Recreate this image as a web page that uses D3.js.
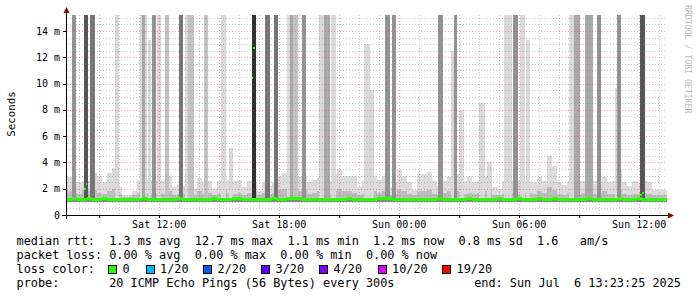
<!DOCTYPE html>
<html>
<head>
<meta charset="utf-8">
<script src="https://cdn.jsdelivr.net/npm/d3@7"></script>
<style>
  body { margin: 0; background: #fff; }
  text { font-family: "DejaVu Sans Mono", monospace; white-space: pre; }
  rect { shape-rendering: crispEdges; }
</style>
</head>
<body>
<script>
// smokeping style latency graph, 30 hours, 15 min smoke slots
var startTime = new Date(2025, 6, 5, 7, 23, 25);
var endTime = new Date(2025, 6, 6, 13, 23, 25);
var slotMinutes = 15;

var smokeFloor = 1.02; // lowest ping, ms

// top of the outer smoke (max ping), ms
var smokeMax = [2.9,2.4,2.5,2.6,2.6,3.2,3.0,2.5,3.2,3.6,
  2.1,1.5,1.5,1.8,2.6,2.6,2.7,2.6,2.6,2.6,
  3.0,2.1,2.3,2.2,2.5,2.0,2.8,2.5,2.6,2.0,
  2.6,2.9,2.7,2.6,2.7,2.1,2.6,2.5,1.8,2.5,
  2.2,2.5,3.0,3.2,2.9,3.4,2.9,3.0,2.5,2.7,
  2.8,3.1,2.5,3.1,3.5,3.0,3.0,3.0,2.1,2.6,
  2.5,3.0,2.7,3.0,2.1,2.5,3.4,3.0,2.5,1.9,
  3.1,3.1,3.3,2.6,2.2,2.6,2.9,2.6,3.1,2.6,
  3.0,2.5,2.6,2.9,4.0,2.1,2.0,2.6,2.6,2.6,
  2.6,2.6,2.6,2.5,2.9,2.6,4.5,3.7,2.5,2.3,
  2.6,2.6,2.6,2.6,2.6,2.6,2.6,2.9,2.5,2.6,
  3.4,2.5,2.2,2.6,2.5,2.6,2.5,1.9,1.9,1.9];

// top of the inner smoke, ms
var smokeMid = [1.8,1.7,1.6,1.9,1.8,1.9,1.7,1.6,1.8,2.0,
  1.6,1.4,1.4,1.5,1.7,1.8,1.7,1.6,1.7,1.6,
  1.8,1.5,1.6,1.6,1.7,1.5,1.8,1.6,1.7,1.5,
  1.6,1.8,1.7,1.6,1.7,1.5,1.7,1.8,1.5,1.7,
  1.6,1.7,1.9,2.0,1.8,2.1,1.8,1.9,1.6,1.7,
  1.8,1.9,1.6,1.8,2.0,1.8,1.8,1.7,1.5,1.6,
  1.6,1.8,1.7,1.8,1.5,1.6,1.9,1.8,1.6,1.5,
  1.8,1.8,1.9,1.6,1.5,1.7,1.8,1.6,1.8,1.6,
  1.7,1.6,1.7,1.8,2.0,1.5,1.5,1.6,1.7,1.7,
  1.6,1.7,1.7,1.6,1.8,1.7,2.1,1.9,1.6,1.5,
  1.7,1.8,1.6,1.7,1.8,1.6,1.7,1.8,1.6,1.6,
  1.9,1.6,1.5,1.6,1.6,1.7,1.6,1.5,1.5,1.5];

// median rtt per slot, ms
var median = [1.20,1.22,1.18,1.20,1.25,1.20,1.18,1.22,1.20,1.15,
  1.18,1.20,1.15,1.18,1.20,1.22,1.18,1.20,1.20,1.15,
  1.20,1.18,1.22,1.20,1.18,1.20,1.15,1.18,1.20,1.22,
  1.20,1.18,1.20,1.22,1.25,1.20,1.18,1.20,1.15,1.18,
  1.20,1.22,1.20,1.18,1.22,1.25,1.22,1.20,1.18,1.20,
  1.15,1.18,1.20,1.18,1.15,1.20,1.22,1.20,1.18,1.15,
  1.18,1.20,1.22,1.25,1.22,1.20,1.18,1.20,1.15,1.18,
  1.20,1.18,1.15,1.20,1.22,1.18,1.20,1.15,1.18,1.20,
  1.22,1.20,1.18,1.15,1.18,1.20,1.22,1.20,1.18,1.20,
  1.22,1.20,1.18,1.20,1.22,1.18,1.20,1.22,1.20,1.18,
  1.20,1.15,1.18,1.20,1.22,1.20,1.18,1.15,1.18,1.20,
  1.22,1.20,1.18,1.20,1.22,1.20,1.18,1.20,1.18,1.20];

// 5 minute steps where the median jumped
var peakAt = ["Sat 08:14","Sat 08:19","Sat 16:37","Sat 16:42","Sun 12:02","Sun 12:08"];
var peakMs = [2.0, 2.35, 10.4, 12.7, 1.5, 1.7];

// smoke spikes: from, to, how many pings were slow (darker = more), top in ms
var spikeFrom = ["Sat 07:38","Sat 08:14","Sat 08:32","Sat 09:47","Sat 11:02","Sat 11:08","Sat 11:26","Sat 11:38",
  "Sat 11:53","Sat 12:17","Sat 12:59","Sat 13:17","Sat 13:26","Sat 14:14","Sat 15:05","Sat 15:29",
  "Sat 16:38","Sat 17:17","Sat 17:44","Sat 18:23","Sat 18:32","Sat 18:41","Sat 19:08","Sat 19:59",
  "Sat 20:14","Sat 20:35","Sat 22:14","Sat 22:32","Sat 23:17","Sat 23:38","Sun 01:56","Sun 02:35",
  "Sun 02:44","Sun 02:59","Sun 03:59","Sun 04:23","Sun 05:14","Sun 05:41","Sun 06:02","Sun 06:20",
  "Sun 08:29","Sun 08:44","Sun 09:17","Sun 09:53","Sun 10:47","Sun 10:53","Sun 12:02"];
var spikeTo = ["Sat 07:50","Sat 08:26","Sat 08:47","Sat 09:59","Sat 11:23","Sat 11:17","Sat 11:35","Sat 11:50",
  "Sat 12:05","Sat 12:29","Sat 13:11","Sat 13:29","Sat 13:44","Sat 14:26","Sat 15:20","Sat 15:41",
  "Sat 16:50","Sat 17:32","Sat 17:56","Sat 18:35","Sat 18:44","Sat 18:56","Sat 19:20","Sat 20:17",
  "Sat 20:32","Sat 20:50","Sat 22:32","Sat 22:44","Sat 23:32","Sat 23:50","Sun 02:11","Sun 02:50",
  "Sun 02:53","Sun 03:14","Sun 04:17","Sun 04:35","Sun 05:38","Sun 05:56","Sun 06:17","Sun 06:32",
  "Sun 08:47","Sun 09:02","Sun 09:41","Sun 10:05","Sun 10:56","Sun 11:05","Sun 12:17"];
var spikeDepth = [4,6,5,1,1,3,1,4, 1,2,5,1,2,2,1,1, 7,5,5,1,3,2,4,1, 3,1,1,1,4,4,4,1,
  4,1,1,1,1,4,1,1, 1,3,3,4,1,4,6];
var spikeTop = [15.2,15.2,15.2,15.2,15.2,15.2,13.3,15.2, 15.2,15.2,15.2,15.2,15.2,15.2,15.2,5.1,
  15.2,15.2,15.2,15.2,15.2,15.2,15.2,15.2, 15.2,15.2,13.0,9.5,15.2,15.2,15.2,12.5,
  15.2,8.0,8.5,4.0,15.2,15.2,15.2,13.3, 15.2,15.2,15.2,15.2,9.7,15.2,15.2];

var yTicks = [0,2,4,6,8,10,12,14];
var lossLabels = ["0","1/20","2/20","3/20","4/20","10/20","19/20"];
var lossColors = ["#26ff00","#00b8ff","#0059ff","#5e00ff","#7e00ff","#dd00ff","#ff0000"];

var legendRows = [
  "median rtt:  1.3 ms avg  12.7 ms max  1.1 ms min  1.2 ms now  0.8 ms sd  1.6   am/s",
  "packet loss: 0.00 % avg  0.00 % max  0.00 % min  0.00 % now",
  "loss color:",
  "probe:       20 ICMP Echo Pings (56 Bytes) every 300s"
];
var endLabel = "end: Sun Jul  6 13:23:25 2025";

function parseT(s) {
  var day = s.indexOf("Sun") === 0 ? 6 : 5;
  var hm = s.slice(4).split(":");
  return new Date(2025, 6, day, +hm[0], +hm[1]);
}
function slotTime(i) { return d3.timeMinute.offset(startTime, i * slotMinutes); }

var width = 697, height = 297;
var svg = d3.select("body").append("svg").attr("width", width).attr("height", height);

var x = d3.scaleTime().domain([startTime, endTime]).range([67, 667]);
var y = d3.scaleLinear().domain([0, 15.22]).range([215, 15]);
var shade = ["#d9d9d9","#c2c2c2","#a8a8a8","#939393","#767676","#555555","#303030"];

function px(t) { return Math.round(x(t)); }
function slotX(d, i) { return px(slotTime(i)); }
function slotW(d, i) { return px(slotTime(i + 1)) - px(slotTime(i)); }

var plot = svg.append("g");

// outer smoke
plot.selectAll("rect.smoke").data(smokeMax).enter().append("rect")
  .attr("x", slotX).attr("width", slotW)
  .attr("y", function(d) { return y(d); })
  .attr("height", function(d) { return y(smokeFloor) - y(d); })
  .attr("fill", "#dcdcdc");

plot.selectAll("rect.mid").data(smokeMid).enter().append("rect")
  .attr("x", slotX).attr("width", slotW)
  .attr("y", function(d) { return y(d); })
  .attr("height", function(d) { return y(smokeFloor) - y(d); })
  .attr("fill", "#bdbdbd");

plot.selectAll("rect.low").data(median).enter().append("rect")
  .attr("x", slotX).attr("width", slotW)
  .attr("y", function(d) { return y(d + 0.12); })
  .attr("height", function(d) { return y(smokeFloor) - y(d + 0.12); })
  .attr("fill", "#8a8a8a");

// spikes
plot.selectAll("rect.spike").data(spikeFrom).enter().append("rect")
  .attr("x", function(d) { return px(parseT(d)); })
  .attr("width", function(d, i) { return Math.max(2, px(parseT(spikeTo[i])) - px(parseT(d))); })
  .attr("y", function(d, i) { return y(spikeTop[i]); })
  .attr("height", function(d, i) { return y(smokeFloor + 0.1) - y(spikeTop[i]); })
  .attr("fill", function(d, i) { return shade[spikeDepth[i] - 1]; });

// grid on top, like rrdtool
var grid = svg.append("g");
var hMinor = d3.range(0.5, 15.22, 0.5).filter(function(v) { return v % 2 !== 0; });
grid.selectAll("line.hmin").data(hMinor).enter().append("line")
  .attr("x1", 67).attr("x2", 667)
  .attr("y1", function(d) { return Math.round(y(d)) + 0.5; })
  .attr("y2", function(d) { return Math.round(y(d)) + 0.5; })
  .attr("stroke", "rgba(120,120,120,0.4)").attr("stroke-dasharray", "1,2");
grid.selectAll("line.hmaj").data(yTicks.slice(1)).enter().append("line")
  .attr("x1", 67).attr("x2", 667)
  .attr("y1", function(d) { return Math.round(y(d)) + 0.5; })
  .attr("y2", function(d) { return Math.round(y(d)) + 0.5; })
  .attr("stroke", "rgba(230,60,60,0.45)").attr("stroke-dasharray", "1,2");

var hours = x.ticks(d3.timeHour.every(1));
grid.selectAll("line.vmin").data(hours.filter(function(d) { return d.getHours() % 3 !== 0; })).enter().append("line")
  .attr("y1", 15).attr("y2", 215)
  .attr("x1", function(d) { return px(d) + 0.5; })
  .attr("x2", function(d) { return px(d) + 0.5; })
  .attr("stroke", "rgba(120,120,120,0.4)").attr("stroke-dasharray", "1,2");
grid.selectAll("line.vmaj").data(hours.filter(function(d) { return d.getHours() % 3 === 0; })).enter().append("line")
  .attr("y1", 15).attr("y2", 215)
  .attr("x1", function(d) { return px(d) + 0.5; })
  .attr("x2", function(d) { return px(d) + 0.5; })
  .attr("stroke", "rgba(230,60,60,0.45)").attr("stroke-dasharray", "1,2");

// median
svg.append("g").selectAll("rect").data(median).enter().append("rect")
  .attr("x", slotX).attr("width", slotW)
  .attr("y", function(d) { return Math.round(y(d) - 1.5); })
  .attr("height", 3)
  .attr("fill", lossColors[0]);
svg.append("g").selectAll("rect").data(peakAt).enter().append("rect")
  .attr("x", function(d) { return px(parseT(d)); })
  .attr("width", function(d) { return px(d3.timeMinute.offset(parseT(d), 5)) - px(parseT(d)); })
  .attr("y", function(d, i) { return Math.round(y(peakMs[i]) - 1); })
  .attr("height", 2)
  .attr("fill", lossColors[0]);

// axes
svg.append("line").attr("x1", 62).attr("x2", 669).attr("y1", 215.5).attr("y2", 215.5).attr("stroke", "#000");
svg.append("line").attr("x1", 66.5).attr("x2", 66.5).attr("y1", 12).attr("y2", 219).attr("stroke", "#000");
svg.append("path").attr("d", "M63.5,13 L66.5,7 L69.5,13 Z").attr("fill", "#8b0000");
svg.append("path").attr("d", "M668,212.5 L674,215.5 L668,218.5 Z").attr("fill", "#8b0000");

svg.selectAll("line.yt").data(yTicks).enter().append("line")
  .attr("x1", 63).attr("x2", 67)
  .attr("y1", function(d) { return Math.round(y(d)) + 0.5; })
  .attr("y2", function(d) { return Math.round(y(d)) + 0.5; })
  .attr("stroke", "#000");
svg.selectAll("text.yl").data(yTicks).enter().append("text")
  .attr("x", 60).attr("y", function(d) { return y(d) + 3.5; })
  .attr("text-anchor", "end").attr("font-size", 10).attr("fill", "#000")
  .text(function(d) { return d === 0 ? "0" : d + " m"; });

var labelTicks = hours.filter(function(d) { return d.getHours() % 6 === 0; });
svg.selectAll("line.xt").data(hours.filter(function(d) { return d.getHours() % 3 === 0; })).enter().append("line")
  .attr("y1", 215).attr("y2", 218)
  .attr("x1", function(d) { return px(d) + 0.5; })
  .attr("x2", function(d) { return px(d) + 0.5; })
  .attr("stroke", "#000");
svg.selectAll("text.xl").data(labelTicks).enter().append("text")
  .attr("x", function(d) { return x(d); }).attr("y", 228)
  .attr("text-anchor", "middle").attr("font-size", 10).attr("fill", "#000")
  .text(d3.timeFormat("%a %H:%M"));

svg.append("text").attr("transform", "translate(15,114) rotate(-90)")
  .attr("text-anchor", "middle").attr("font-size", 10.8).text("Seconds");
svg.append("text").attr("transform", "translate(685,5) rotate(90)")
  .attr("font-size", 8.2).attr("fill", "#bbbbbb").text("RRDTOOL / TOBI OETIKER");

// legend
var leg = svg.append("g").attr("font-size", 11.85).attr("fill", "#000");
leg.selectAll("text").data(legendRows).enter().append("text")
  .attr("x", 16.5).attr("y", function(d, i) { return 245 + i * 14; })
  .text(function(d) { return d; });
leg.append("text").attr("x", 681).attr("y", 287).attr("text-anchor", "end").text(endLabel);

var boxX = [108, 145.5, 203, 261, 319, 377.5, 442];
leg.selectAll("rect").data(lossColors).enter().append("rect")
  .attr("x", function(d, i) { return Math.round(boxX[i]); }).attr("y", 265)
  .attr("width", 8).attr("height", 8)
  .attr("fill", function(d) { return d; }).attr("stroke", "#000");
leg.selectAll("text.lc").data(lossLabels).enter().append("text")
  .attr("class", "lc")
  .attr("x", function(d, i) { return boxX[i] + 14.5; }).attr("y", 273)
  .text(function(d) { return d; });
</script>
</body>
</html>
